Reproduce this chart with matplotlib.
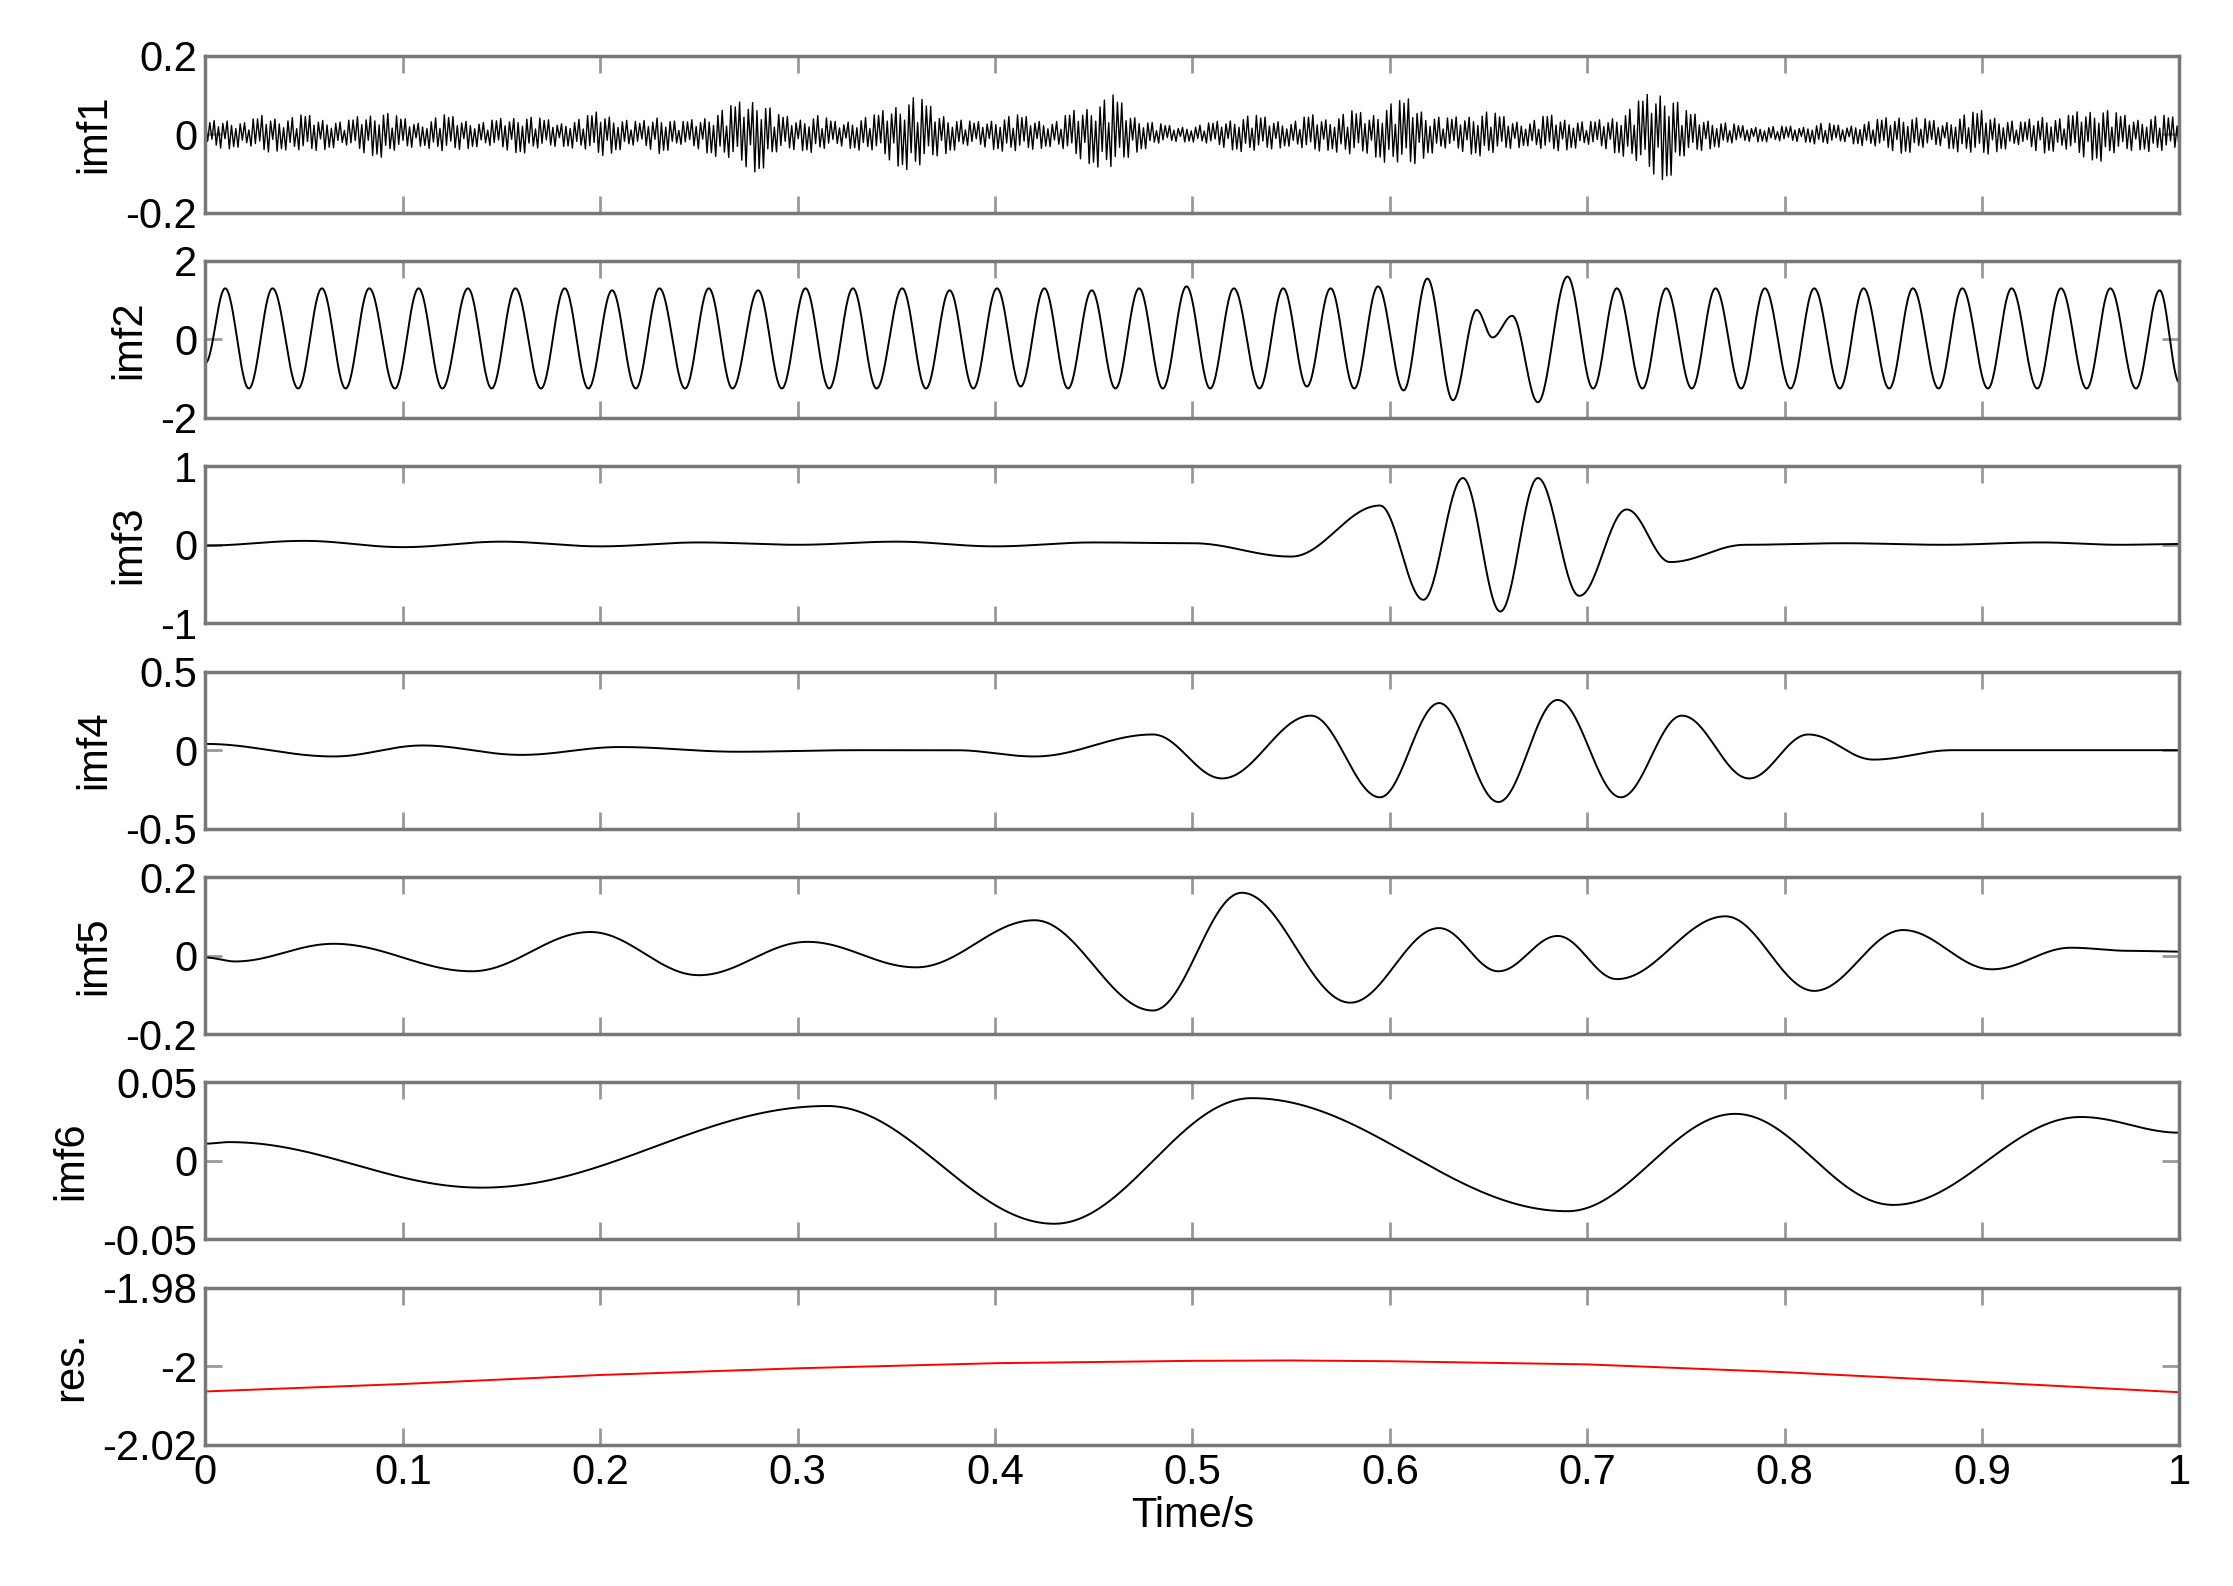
import numpy as np
import matplotlib
matplotlib.use("Agg")
import matplotlib.pyplot as plt

plt.rcParams['font.family'] = ['Liberation Sans', 'DejaVu Sans']

labels = ["imf1", "imf2", "imf3", "imf4", "imf5", "imf6", "res."]
ylims = [(-0.2, 0.2), (-2, 2), (-1, 1), (-0.5, 0.5), (-0.2, 0.2), (-0.05, 0.05), (-2.02, -1.98)]
yticks = [[-0.2, 0, 0.2], [-2, 0, 2], [-1, 0, 1], [-0.5, 0, 0.5], [-0.2, 0, 0.2], [-0.05, 0, 0.05], [-2.02, -2, -1.98]]
ytick_labels = [["-0.2", "0", "0.2"], ["-2", "0", "2"], ["-1", "0", "1"], ["-0.5", "0", "0.5"],
                ["-0.2", "0", "0.2"], ["-0.05", "0", "0.05"], ["-2.02", "-2", "-1.98"]]
xticks = [0, 0.1, 0.2, 0.3, 0.4, 0.5, 0.6, 0.7, 0.8, 0.9, 1]
xtick_labels = ["0", "0.1", "0.2", "0.3", "0.4", "0.5", "0.6", "0.7", "0.8", "0.9", "1"]

# imf1 envelope (amplitude per 0.01 s)
imf1_env = [0.03, 0.04, 0.03, 0.05, 0.04, 0.05, 0.04, 0.03, 0.05, 0.06,
            0.04, 0.03, 0.05, 0.04, 0.03, 0.04, 0.05, 0.04, 0.03, 0.04,
            0.06, 0.04, 0.03, 0.05, 0.03, 0.04, 0.06, 0.08, 0.10, 0.05,
            0.04, 0.05, 0.03, 0.04, 0.05, 0.08, 0.10, 0.06, 0.04, 0.03,
            0.04, 0.05, 0.04, 0.03, 0.06, 0.08, 0.10, 0.05, 0.03, 0.02,
            0.02, 0.03, 0.04, 0.05, 0.04, 0.03, 0.05, 0.04, 0.06, 0.05,
            0.08, 0.09, 0.05, 0.04, 0.05, 0.06, 0.04, 0.03, 0.05, 0.04,
            0.03, 0.04, 0.06, 0.10, 0.12, 0.06, 0.04, 0.03, 0.02, 0.02,
            0.02, 0.02, 0.03, 0.02, 0.03, 0.04, 0.05, 0.04, 0.03, 0.05,
            0.06, 0.04, 0.03, 0.05, 0.04, 0.06, 0.07, 0.05, 0.04, 0.05, 0.04]
imf1_step = 0.0011
imf1_jitter = [1.0, 0.6, 0.9, 0.4, 1.0, 0.8, 0.5, 0.95, 0.7, 0.3, 0.85]

imf2_t = [0.0, 0.010, 0.022, 0.034, 0.047, 0.059, 0.071, 0.083, 0.096, 0.108, 0.120, 0.133, 0.145,
          0.157, 0.170, 0.182, 0.194, 0.206, 0.218, 0.230, 0.243, 0.255, 0.267, 0.280, 0.292, 0.304,
          0.316, 0.328, 0.340, 0.353, 0.365, 0.377, 0.389, 0.401, 0.413, 0.425, 0.437, 0.449, 0.461,
          0.473, 0.485, 0.497, 0.509, 0.521, 0.534, 0.546, 0.558, 0.570, 0.582, 0.594, 0.607, 0.619,
          0.632, 0.644, 0.652, 0.662, 0.675, 0.690, 0.703, 0.715, 0.728, 0.740, 0.753, 0.765, 0.778,
          0.790, 0.803, 0.815, 0.828, 0.840, 0.853, 0.865, 0.878, 0.890, 0.903, 0.915, 0.928, 0.940,
          0.953, 0.965, 0.978, 0.990, 1.0]
imf2_v = [-0.6, 1.3, -1.25, 1.3, -1.25, 1.3, -1.25, 1.3, -1.25, 1.3, -1.25, 1.3, -1.25,
          1.3, -1.25, 1.3, -1.25, 1.25, -1.25, 1.3, -1.25, 1.3, -1.25, 1.25, -1.25, 1.3,
          -1.25, 1.3, -1.25, 1.3, -1.25, 1.25, -1.25, 1.3, -1.2, 1.3, -1.25, 1.25, -1.25,
          1.3, -1.25, 1.35, -1.25, 1.3, -1.25, 1.3, -1.2, 1.3, -1.25, 1.35, -1.3, 1.55,
          -1.55, 0.75, 0.05, 0.6, -1.6, 1.6, -1.25, 1.3, -1.25, 1.3, -1.25, 1.3, -1.25,
          1.3, -1.25, 1.3, -1.25, 1.3, -1.25, 1.3, -1.25, 1.3, -1.25, 1.3, -1.25, 1.3,
          -1.25, 1.3, -1.25, 1.25, -1.1]

imf3_t = [0.0, 0.05, 0.10, 0.15, 0.20, 0.25, 0.30, 0.35, 0.40, 0.45, 0.50, 0.55, 0.595, 0.617,
          0.637, 0.656, 0.675, 0.696, 0.72, 0.742, 0.78, 0.83, 0.88, 0.93, 0.97, 1.0]
imf3_v = [-0.01, 0.05, -0.03, 0.04, -0.02, 0.03, 0.0, 0.04, -0.02, 0.03, 0.02, -0.15, 0.5, -0.7,
          0.85, -0.85, 0.85, -0.65, 0.45, -0.22, 0.0, 0.02, 0.0, 0.03, 0.0, 0.01]

imf4_t = [0.0, 0.065, 0.11, 0.16, 0.21, 0.27, 0.33, 0.38, 0.42, 0.48, 0.515, 0.56, 0.595, 0.625,
          0.655, 0.685, 0.717, 0.748, 0.782, 0.812, 0.845, 0.885, 1.0]
imf4_v = [0.04, -0.04, 0.03, -0.03, 0.02, -0.01, 0.0, 0.0, -0.04, 0.1, -0.18, 0.22, -0.3, 0.3,
          -0.33, 0.32, -0.3, 0.22, -0.18, 0.1, -0.06, 0.0, 0.0]

imf5_t = [0.0, 0.015, 0.065, 0.135, 0.195, 0.25, 0.305, 0.36, 0.42, 0.48, 0.525, 0.58, 0.625,
          0.655, 0.685, 0.715, 0.77, 0.815, 0.86, 0.905, 0.945, 0.975, 1.0]
imf5_v = [-0.005, -0.015, 0.03, -0.04, 0.06, -0.05, 0.035, -0.03, 0.09, -0.14, 0.16, -0.12, 0.07,
          -0.04, 0.05, -0.06, 0.1, -0.09, 0.065, -0.035, 0.02, 0.012, 0.01]

imf6_t = [0.0, 0.012, 0.14, 0.315, 0.43, 0.53, 0.69, 0.775, 0.855, 0.95, 1.0]
imf6_v = [0.011, 0.012, -0.017, 0.035, -0.04, 0.04, -0.032, 0.03, -0.028, 0.028, 0.018]

res_t = [0.0, 0.1, 0.2, 0.3, 0.4, 0.5, 0.55, 0.6, 0.7, 0.8, 0.9, 1.0]
res_v = [-2.0064, -2.0045, -2.0022, -2.0005, -1.9992, -1.9986, -1.9985, -1.9987, -1.9995,
         -2.0015, -2.004, -2.0066]


def smooth(tk, vk, n=4000):
    tk = np.asarray(tk); vk = np.asarray(vk)
    t = np.linspace(0, 1, n)
    idx = np.clip(np.searchsorted(tk, t, side='right') - 1, 0, len(tk) - 2)
    f = (t - tk[idx]) / (tk[idx + 1] - tk[idx])
    w = (1 - np.cos(np.pi * f)) / 2
    return t, vk[idx] * (1 - w) + vk[idx + 1] * w


n1 = int(round(1 / imf1_step)) + 1
t1 = np.arange(n1) * imf1_step
env = np.interp(t1, np.arange(len(imf1_env)) * 0.01, imf1_env)
sign = np.where(np.arange(n1) % 2 == 0, 1.0, -1.0)
jit = np.array(imf1_jitter)
v1 = sign * env * jit[np.arange(n1) % len(jit)]

series = [(t1, v1),
          smooth(imf2_t, imf2_v), smooth(imf3_t, imf3_v), smooth(imf4_t, imf4_v),
          smooth(imf5_t, imf5_v), smooth(imf6_t, imf6_v), (np.array(res_t), np.array(res_v))]

fs = 30
fig = plt.figure(figsize=(22.33, 15.86), dpi=100)
left, right = 0.092, 0.976
top = 0.965
h = 0.099
gap = 0.1295
for i in range(7):
    b = top - h - i * gap
    ax = fig.add_axes([left, b, right - left, h])
    t, v = series[i]
    color = 'red' if i == 6 else 'black'
    ax.plot(t, v, color=color, lw=1.4 if i else 1.0)
    ax.set_xlim(0, 1)
    ax.set_ylim(*ylims[i])
    ax.set_yticks(yticks[i])
    ax.set_yticklabels(ytick_labels[i])
    ax.set_xticks(xticks)
    if i == 6:
        ax.set_xticklabels(xtick_labels)
        ax.set_xlabel("Time/s", fontsize=fs, labelpad=2)
    else:
        ax.set_xticklabels([])
    ax.set_ylabel(labels[i], fontsize=fs, labelpad=8)
    ax.tick_params(axis='both', direction='in', length=12, width=2, color='#999999',
                   labelsize=fs, top=True, right=True, pad=6)
    for s in ax.spines.values():
        s.set_color('#777777')
        s.set_linewidth(2.5)

fig.savefig("out.png", dpi=100, facecolor='white')
